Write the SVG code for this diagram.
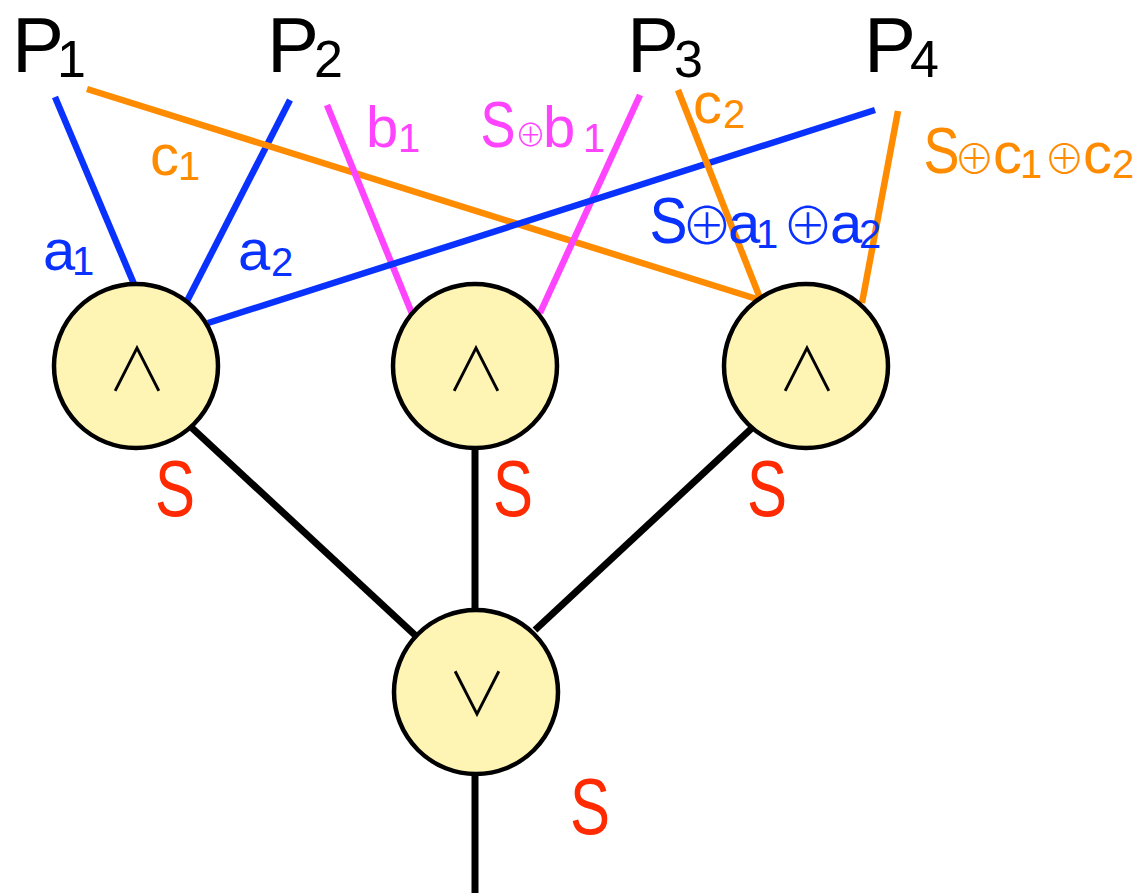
<svg xmlns="http://www.w3.org/2000/svg" width="1138" height="893" viewBox="0 0 1138 893">
<style>
.bl{stroke:#0a32ff;stroke-width:6.5;fill:none}
.or{stroke:#ff8c00;stroke-width:6.5;fill:none}
.mg{stroke:#ff44ff;stroke-width:6.5;fill:none}
.bk{stroke:#000;stroke-width:7;fill:none}
.node{fill:#fef5b5;stroke:#000;stroke-width:4.5}
.sym{font-family:"Noto Sans CJK JP","DejaVu Sans",sans-serif;font-weight:300;font-size:60px;fill:#000;text-anchor:middle}
.P{font-family:"Liberation Sans",Arial,sans-serif;fill:#000;font-size:78px}
.lab{font-family:"Liberation Sans",Arial,sans-serif;font-size:58px}
.sub{font-size:40px}
.cap{font-family:"Liberation Sans",Arial,sans-serif;font-size:64px}
.op{font-family:"Noto Sans CJK JP","DejaVu Sans",sans-serif;font-weight:300}
.red{font-family:"Liberation Sans",Arial,sans-serif;font-size:80px;fill:#ff2a00}
</style>
<g id="connectors">
<line class="bl" x1="55" y1="97" x2="134" y2="284"/>
<line class="bl" x1="290" y1="100" x2="185" y2="305"/>
<line class="or" x1="87" y1="89" x2="760" y2="300"/>
<line class="mg" x1="327" y1="105" x2="413" y2="316"/>
<line class="mg" x1="640" y1="95" x2="540" y2="313"/>
<line class="bl" x1="875" y1="110" x2="208" y2="323"/>
<line class="or" x1="678" y1="90" x2="760" y2="298"/>
<line class="or" x1="898" y1="111" x2="862" y2="303"/>
<line class="bk" x1="192" y1="428" x2="416" y2="636"/>
<line class="bk" x1="475" y1="448" x2="475" y2="612"/>
<line class="bk" x1="752" y1="428" x2="535" y2="630"/>
<line class="bk" x1="475" y1="772" x2="475" y2="893"/>
</g>
<g id="edge-labels">
<text class="lab" fill="#0a32ff"><tspan x="43" y="270">a</tspan><tspan class="sub" x="72" y="275">1</tspan></text>
<text class="lab" fill="#0a32ff"><tspan x="238" y="270">a</tspan><tspan class="sub" x="271" y="276">2</tspan></text>
<text class="lab" fill="#ff8c00"><tspan x="150" y="175">c</tspan><tspan class="sub" x="178" y="180">1</tspan></text>
<text class="lab" fill="#ff44ff"><tspan x="366" y="147">b</tspan><tspan class="sub" x="398" y="152">1</tspan></text>
<g id="label-Sb1" fill="#ff44ff">
<text class="cap" x="480.5" y="147" textLength="35" lengthAdjust="spacingAndGlyphs">S</text>
<text class="lab"><tspan class="op" x="515" y="146" font-size="31">⊕</tspan><tspan x="543" y="147">b</tspan><tspan class="sub" x="583" y="152">1</tspan></text>
</g>
<text class="lab" fill="#ff8c00"><tspan x="693" y="123">c</tspan><tspan class="sub" x="723" y="128">2</tspan></text>
<g id="label-Sa1a2" fill="#0a32ff">
<text class="cap" x="649.5" y="243" textLength="38" lengthAdjust="spacingAndGlyphs">S</text>
<text class="lab"><tspan class="op" x="681" y="245" font-size="52">⊕</tspan><tspan x="728" y="243">a</tspan><tspan class="sub" x="756" y="248">1</tspan><tspan class="op" x="782" y="245" font-size="52">⊕</tspan><tspan x="830" y="243">a</tspan><tspan class="sub" x="859" y="248">2</tspan></text>
</g>
<g id="label-Sc1c2" fill="#ff8c00">
<text class="cap" x="923.5" y="173" textLength="36" lengthAdjust="spacingAndGlyphs">S</text>
<text class="lab"><tspan class="op" x="954" y="174" font-size="41">⊕</tspan><tspan x="993" y="173">c</tspan><tspan class="sub" x="1020" y="178">1</tspan><tspan class="op" x="1044" y="174" font-size="41">⊕</tspan><tspan x="1083" y="173">c</tspan><tspan class="sub" x="1112" y="178">2</tspan></text>
</g>
</g>
<g id="P1"><text class="P"><tspan x="12" y="72">P</tspan><tspan x="57" y="77" font-size="52">1</tspan></text></g>
<g id="P2"><text class="P"><tspan x="267" y="72">P</tspan><tspan x="314" y="77" font-size="52">2</tspan></text></g>
<g id="P3"><text class="P"><tspan x="627" y="72">P</tspan><tspan x="674" y="77" font-size="52">3</tspan></text></g>
<g id="P4"><text class="P"><tspan x="864" y="72">P</tspan><tspan x="910" y="77" font-size="52">4</tspan></text></g>
<g id="and1"><circle class="node" cx="136" cy="366" r="82"/><text class="sym" x="137" y="391">∧</text></g>
<g id="and2"><circle class="node" cx="475" cy="366" r="82"/><text class="sym" x="476" y="391">∧</text></g>
<g id="and3"><circle class="node" cx="806" cy="366" r="82"/><text class="sym" x="807" y="391">∧</text></g>
<g id="or"><circle class="node" cx="476" cy="692" r="82"/><text class="sym" x="477" y="716">∨</text></g>
<g id="s-labels">
<text class="red" x="155" y="516" textLength="40" lengthAdjust="spacingAndGlyphs">S</text>
<text class="red" x="493" y="516" textLength="40" lengthAdjust="spacingAndGlyphs">S</text>
<text class="red" x="747" y="516" textLength="40" lengthAdjust="spacingAndGlyphs">S</text>
<text class="red" x="570" y="834" textLength="40" lengthAdjust="spacingAndGlyphs">S</text>
</g>
</svg>
